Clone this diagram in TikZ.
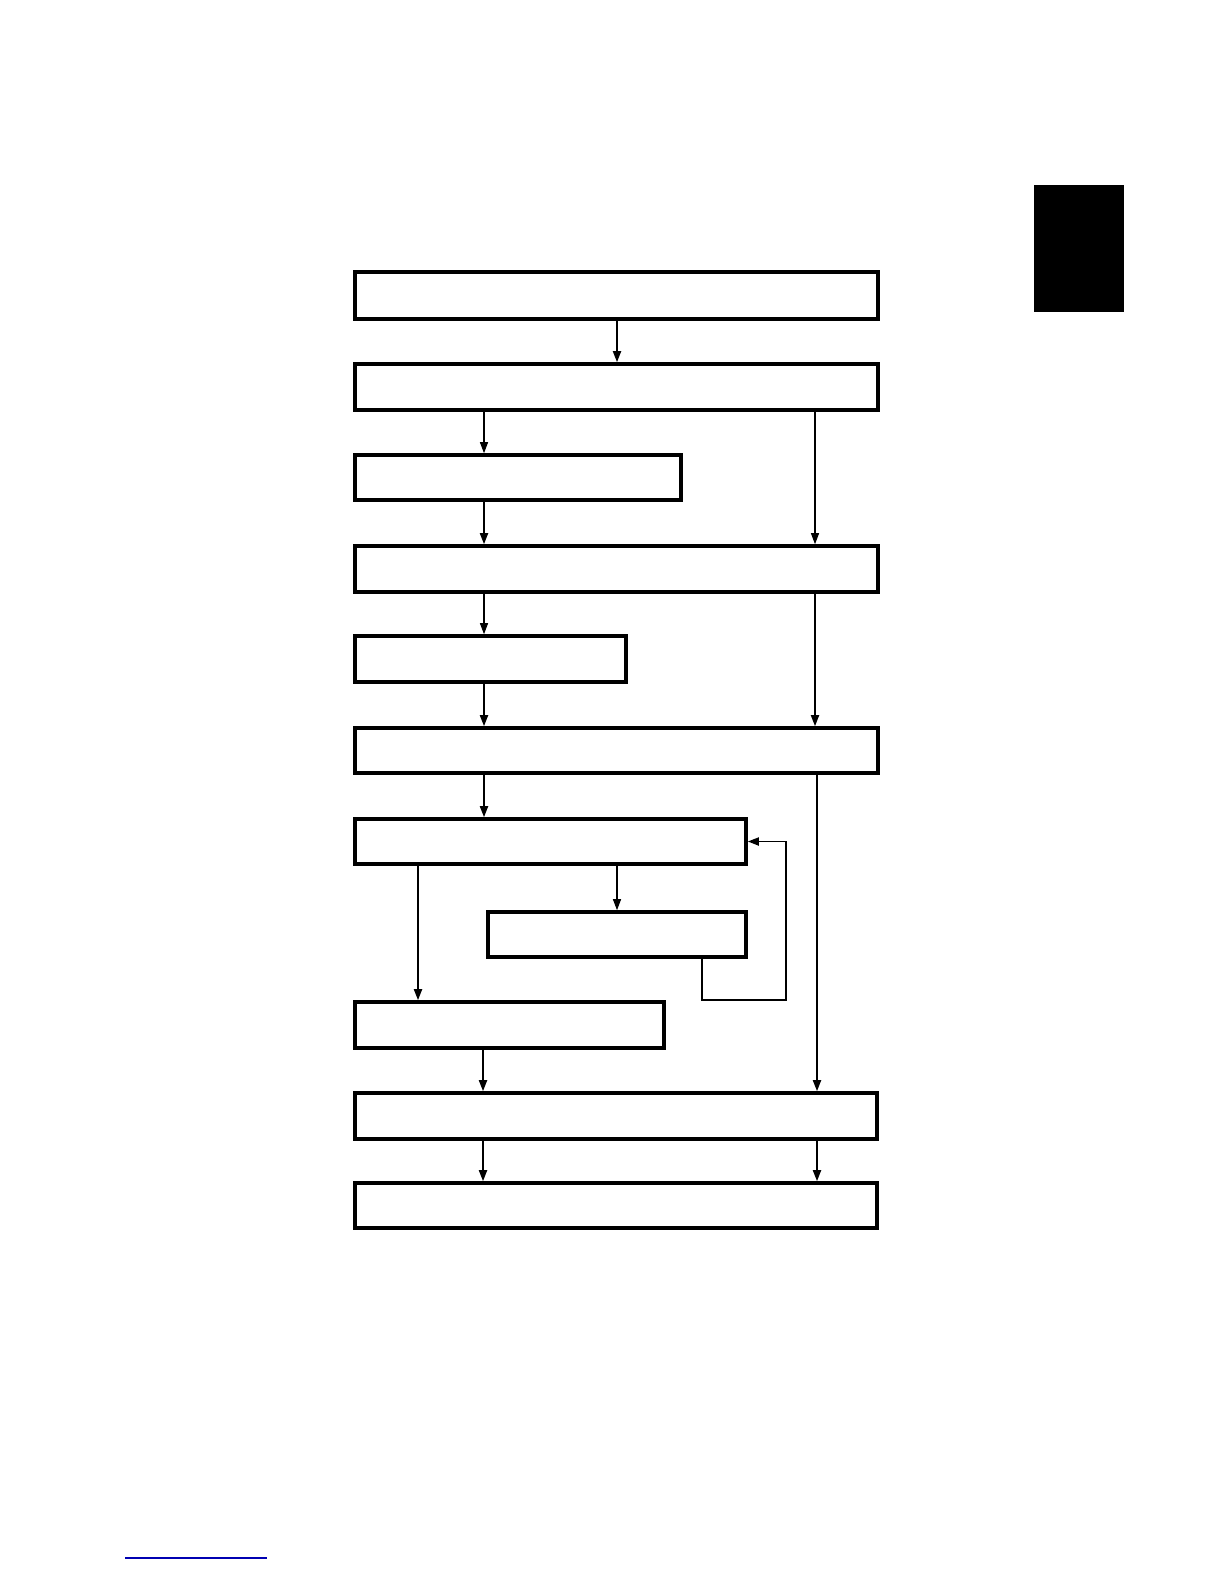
\documentclass[tikz,border=0pt]{standalone}
\usetikzlibrary{arrows.meta}
\begin{document}
\begin{tikzpicture}[x=1pt,y=-1pt,
  box/.style={draw=black,line width=3.6pt,fill=white,rectangle,inner sep=0pt},
  arr/.style={line width=1.8pt,-{Triangle[length=11pt,width=8pt]}},
  arrthin/.style={line width=1.1pt,-{Triangle[length=11pt,width=8pt]}}]
\fill[white] (0,0) rectangle (1224,1584);
\useasboundingbox (0,0) rectangle (1224,1584);
% side tab
\fill[black] (1034,185) rectangle (1124,312);
% footer line
\draw[blue!70!black,line width=1.2pt] (125,1558) -- (267,1558);
% boxes
\node[box,minimum width=523pt,minimum height=47pt] (b1) at (616.5,295.5) {};
\node[box,minimum width=523pt,minimum height=46pt] (b2) at (616.5,387) {};
\node[box,minimum width=326pt,minimum height=45pt] (b3) at (518,477.5) {};
\node[box,minimum width=523pt,minimum height=46pt] (b4) at (616.5,569) {};
\node[box,minimum width=271pt,minimum height=46pt] (b5) at (490.5,659) {};
\node[box,minimum width=523pt,minimum height=45pt] (b6) at (616.5,750.5) {};
\node[box,minimum width=391pt,minimum height=45pt] (b7) at (550.5,841.5) {};
\node[box,minimum width=258pt,minimum height=45pt] (b8) at (617,934.5) {};
\node[box,minimum width=309pt,minimum height=46pt] (b9) at (509.5,1025) {};
\node[box,minimum width=522pt,minimum height=46pt] (b10) at (616,1116) {};
\node[box,minimum width=522pt,minimum height=45pt] (b11) at (616,1205.5) {};
% column coordinates
\coordinate (xa) at (484,0);
\coordinate (xb) at (815,0);
\coordinate (xm) at (617,0);
\coordinate (xl) at (418,0);
\coordinate (xr) at (817,0);
\coordinate (xq) at (483,0);
\coordinate (xp) at (702,0);
\coordinate (lb) at (786,1000);
% connectors
\draw[arr] (b1.south -| xm) -- (b2.north -| xm);
\draw[arrthin] (b2.south -| xa) -- (b3.north -| xa);
\draw[arrthin] (b2.south -| xb) -- (b4.north -| xb);
\draw[arr] (b3.south -| xa) -- (b4.north -| xa);
\draw[arrthin] (b4.south -| xa) -- (b5.north -| xa);
\draw[arr] (b4.south -| xb) -- (b6.north -| xb);
\draw[arr] (b5.south -| xa) -- (b6.north -| xa);
\draw[arr] (b6.south -| xa) -- (b7.north -| xa);
\draw[arr] (b6.south -| xr) -- (b10.north -| xr);
\draw[arr] (b7.south -| xl) -- (b9.north -| xl);
\draw[arrthin] (b7.south -| xm) -- (b8.north -| xm);
\draw[arr] (b8.south -| xp) |- (lb) |- (b7.east);
\draw[arr] (b9.south -| xq) -- (b10.north -| xq);
\draw[arr] (b10.south -| xq) -- (b11.north -| xq);
\draw[arr] (b10.south -| xr) -- (b11.north -| xr);
\end{tikzpicture}
\end{document}
